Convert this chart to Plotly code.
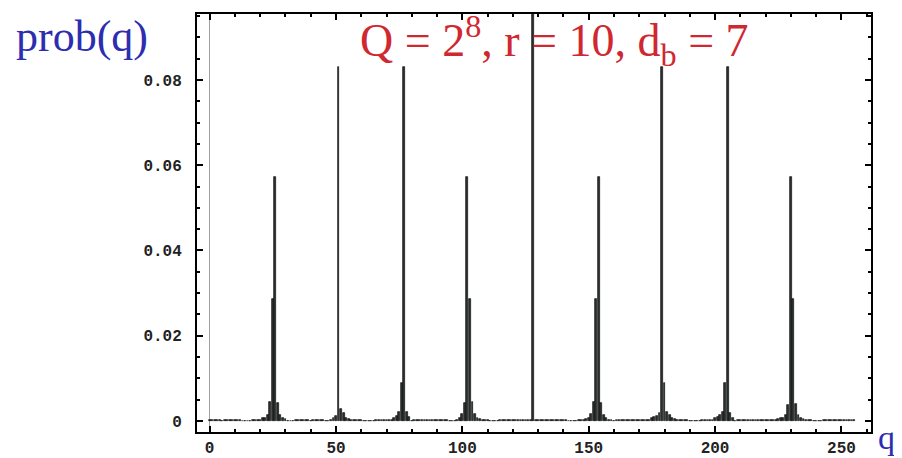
import plotly.graph_objects as go

# q values 0..255 (categories) and read-off probabilities
q = list(range(256))
prob = [
    # 0-15
    3e-4, 3e-4, 3e-4, 3e-4, 3e-4, 0, 3e-4, 3e-4, 3e-4, 3e-4, 3e-4, 3e-4, 3e-4, 0, 0, 0,
    # 16-31
    0, 3e-4, 3e-4, 3e-4, 3e-4, 6e-4, 8e-4, 0.0015, 0.0045, 0.0285, 0.0572, 0.0042, 0.0015, 8e-4, 4e-4, 0,
    # 32-47
    0, 0, 3e-4, 3e-4, 3e-4, 3e-4, 3e-4, 3e-4, 0, 3e-4, 3e-4, 3e-4, 3e-4, 3e-4, 0, 0,
    # 48-63
    3e-4, 6e-4, 0.0012, 0.083, 0.0028, 0.0018, 8e-4, 4e-4, 3e-4, 3e-4, 3e-4, 3e-4, 3e-4, 0, 0, 0,
    # 64-79
    0, 0, 3e-4, 3e-4, 3e-4, 3e-4, 3e-4, 3e-4, 3e-4, 6e-4, 0.0012, 0.0022, 0.0088, 0.083, 0.0020, 0.0010,
    # 80-95
    0, 3e-4, 3e-4, 3e-4, 3e-4, 3e-4, 3e-4, 3e-4, 3e-4, 3e-4, 3e-4, 3e-4, 3e-4, 3e-4, 3e-4, 0,
    # 96-111
    0, 0, 3e-4, 8e-4, 0.0016, 0.0042, 0.0572, 0.0285, 0.0045, 0.0016, 8e-4, 5e-4, 3e-4, 3e-4, 3e-4, 0,
    # 112-127
    0, 0, 0, 3e-4, 3e-4, 3e-4, 3e-4, 3e-4, 3e-4, 3e-4, 3e-4, 3e-4, 3e-4, 3e-4, 3e-4, 3e-4,
    # 128-143
    0.0977, 3e-4, 3e-4, 3e-4, 3e-4, 3e-4, 3e-4, 3e-4, 3e-4, 3e-4, 3e-4, 3e-4, 3e-4, 3e-4, 0, 0,
    # 144-159
    0, 0, 3e-4, 3e-4, 3e-4, 5e-4, 8e-4, 0.0016, 0.0045, 0.0285, 0.0572, 0.0042, 0.0015, 8e-4, 3e-4, 3e-4,
    # 160-175
    0, 3e-4, 3e-4, 3e-4, 3e-4, 3e-4, 3e-4, 3e-4, 3e-4, 3e-4, 3e-4, 3e-4, 3e-4, 3e-4, 3e-4, 6e-4,
    # 176-191
    0.0010, 0.0012, 0.0019, 0.083, 0.0088, 0.0022, 0.0014, 8e-4, 5e-4, 3e-4, 3e-4, 3e-4, 3e-4, 3e-4, 0, 0,
    # 192-207
    0, 0, 0, 3e-4, 3e-4, 3e-4, 3e-4, 3e-4, 6e-4, 0.0010, 0.0014, 0.0022, 0.0088, 0.083, 0.0019, 8e-4,
    # 208-223
    0, 3e-4, 3e-4, 3e-4, 3e-4, 3e-4, 3e-4, 3e-4, 3e-4, 3e-4, 3e-4, 3e-4, 3e-4, 3e-4, 3e-4, 3e-4,
    # 224-239
    3e-4, 5e-4, 6e-4, 8e-4, 0.0015, 0.0038, 0.0572, 0.0285, 0.0040, 0.0015, 8e-4, 5e-4, 3e-4, 3e-4, 3e-4, 0,
    # 240-255
    0, 0, 0, 3e-4, 3e-4, 3e-4, 3e-4, 3e-4, 3e-4, 3e-4, 3e-4, 3e-4, 3e-4, 3e-4, 3e-4, 3e-4,
]

x_ticks = [0, 50, 100, 150, 200, 250]
y_ticks = [0, 0.02, 0.04, 0.06, 0.08]
y_tick_labels = ["0", "0.02", "0.04", "0.06", "0.08"]

title_text = "Q = 2<sup>8</sup>, r = 10, d<sub>b</sub> = 7"
y_label = "prob(q)"
x_label = "q"

fig = go.Figure()
fig.add_trace(go.Bar(
    x=q, y=prob, width=0.75,
    marker=dict(color="#2b3030", line=dict(color="#111111", width=0.7)),
))

tick_font = dict(family="Liberation Mono", size=16, color="#222222", weight="bold")

# page body has an 8px default margin, so the figure is sized/offset to compensate
fig.update_layout(
    width=894, height=450,
    margin=dict(l=189, r=31, t=6, b=26, autoexpand=False),
    paper_bgcolor="white", plot_bgcolor="white",
    showlegend=False, bargap=0,
    xaxis=dict(
        range=[-5, 261.7], tickmode="array", tickvals=x_ticks, automargin=False,
        ticks="inside", ticklen=6, tickwidth=1.5, tickcolor="black",
        minor=dict(dtick=10, tick0=0, ticks="inside", ticklen=3, tickwidth=1.5, tickcolor="black"),
        showline=True, linecolor="black", linewidth=2, mirror="ticks",
        showgrid=False, zeroline=True, zerolinecolor="#a0a0a0", zerolinewidth=1,
        tickfont=tick_font, ticklabelstandoff=0,
    ),
    yaxis=dict(
        range=[-0.0026, 0.0955], tickmode="array", tickvals=y_ticks, ticktext=y_tick_labels,
        automargin=False,
        ticks="inside", ticklen=6, tickwidth=1.5, tickcolor="black",
        minor=dict(dtick=0.005, tick0=0, ticks="inside", ticklen=3, tickwidth=1.5, tickcolor="black"),
        showline=True, linecolor="black", linewidth=2, mirror="ticks",
        showgrid=False, zeroline=False,
        tickfont=tick_font, ticklabelstandoff=10,
    ),
    annotations=[
        dict(text=title_text, xref="paper", yref="paper", x=0.531, y=1.02,
             xanchor="center", yanchor="top", showarrow=False,
             font=dict(family="Liberation Serif", size=46, color="rgb(208,40,48)")),
        dict(text=y_label, xref="paper", yref="paper", x=-0.272, y=1.01,
             xanchor="left", yanchor="top", showarrow=False,
             font=dict(family="Liberation Serif", size=44, color="rgb(45,45,175)")),
        dict(text=x_label, xref="paper", yref="paper", x=1.008, y=-0.012,
             xanchor="left", yanchor="middle", showarrow=False,
             font=dict(family="Liberation Serif", size=34, color="rgb(45,45,175)")),
    ],
)

fig.write_html("out.html")
